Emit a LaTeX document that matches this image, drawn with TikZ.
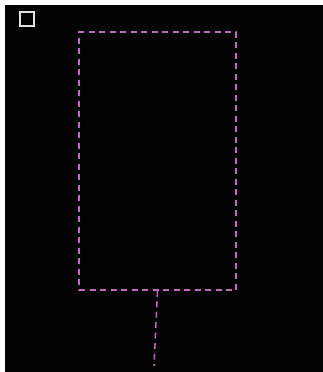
\documentclass[tikz,border=0pt]{standalone}
\usepackage{tikz}
\usetikzlibrary{positioning}
\definecolor{bgdark}{RGB}{2,2,2}
\definecolor{magline}{RGB}{196,104,196}
\definecolor{markgray}{RGB}{225,225,225}
\tikzset{
  outline/.style={
    draw=magline, dashed, dash pattern=on 6pt off 4.5pt, line width=1.5pt
  },
  marker/.style={
    draw=markgray, line width=2pt, minimum size=14pt, inner sep=0pt
  },
  stem/.style={magline, dash pattern=on 6pt off 4.5pt, line width=1.5pt}
}
\begin{document}
\begin{tikzpicture}[x=1pt, y=-1pt]
  \useasboundingbox (0,0) rectangle (323,372);
  \fill[white] (0,0) rectangle (323,372);
  \fill[bgdark] (5,5) rectangle (323,372);
  \node[marker] (corner) at (27,19) {};
  \node[outline, minimum width=157pt, minimum height=258pt, inner sep=0pt] (frame) at (157.5,161) {};
  \coordinate (tail) at (154,366);
  \draw[stem] (frame.south) -- (tail);
\end{tikzpicture}
\end{document}
